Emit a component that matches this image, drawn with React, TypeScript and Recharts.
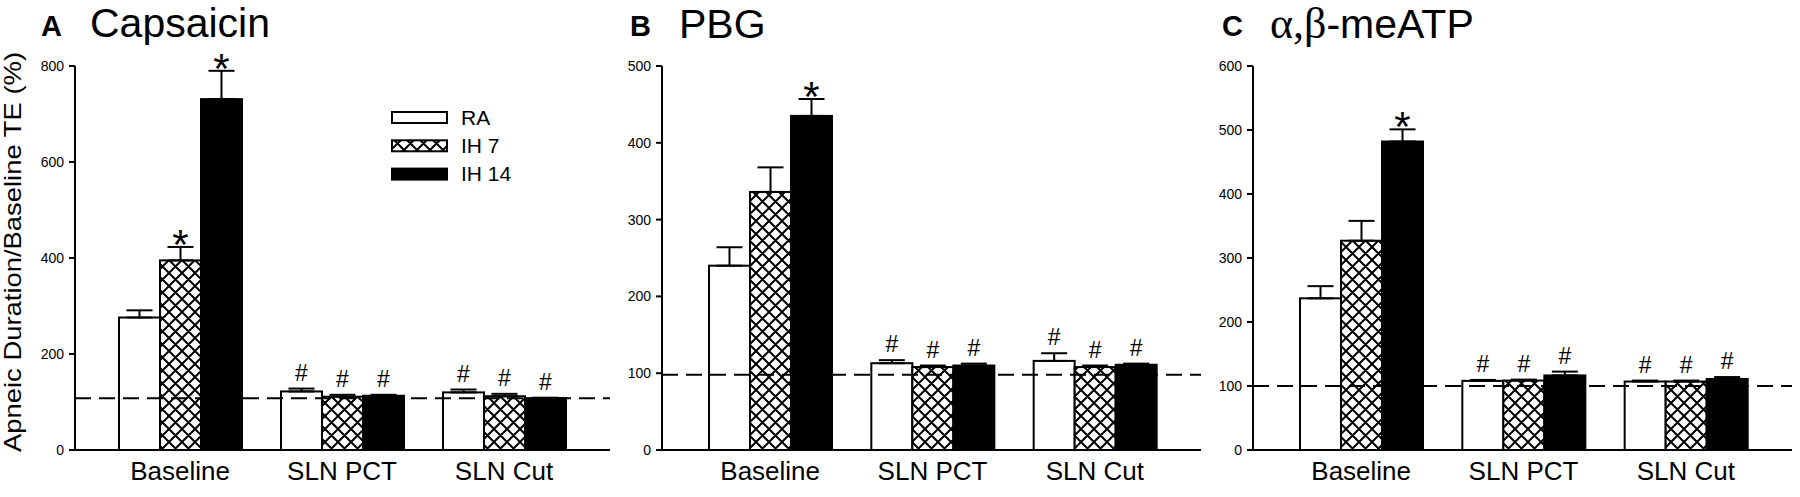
import React from 'react';
import { BarChart, Bar, XAxis, YAxis, ErrorBar, ReferenceLine, Legend } from 'recharts';

const FONT = '"Liberation Sans", Arial, Helvetica, sans-serif';
const SERIF = '"Liberation Serif", "DejaVu Serif", serif';

const categories = ['Baseline', 'SLN PCT', 'SLN Cut'];
const seriesNames = ['RA', 'IH 7', 'IH 14'];

// Panel A: Capsaicin
const capRA = [276, 122, 120];
const capRAErr = [15, 6, 6];
const capIH7 = [395, 111, 112];
const capIH7Err = [28, 4, 5];
const capIH14 = [731, 113, 108];
const capIH14Err = [59, 2, 1];
const capRAMarks = ['', '#', '#'];
const capIH7Marks = ['*', '#', '#'];
const capIH14Marks = ['*', '#', '#'];
const capTicks = [0, 200, 400, 600, 800];
const capRef = 108;

// Panel B: PBG
const pbgRA = [240, 113, 116];
const pbgRAErr = [24, 4, 10];
const pbgIH7 = [336, 108, 108];
const pbgIH7Err = [32, 2, 2];
const pbgIH14 = [435, 110, 111];
const pbgIH14Err = [22, 2.5, 1.5];
const pbgRAMarks = ['', '#', '#'];
const pbgIH7Marks = ['', '#', '#'];
const pbgIH14Marks = ['*', '#', '#'];
const pbgTicks = [0, 100, 200, 300, 400, 500];
const pbgRef = 98;

// Panel C: alpha,beta-meATP
const atpRA = [237, 108, 107];
const atpRAErr = [19, 1.5, 1.5];
const atpIH7 = [327, 108.5, 107];
const atpIH7Err = [31, 1.5, 1.5];
const atpIH14 = [482, 116.5, 111];
const atpIH14Err = [19, 6, 3];
const atpRAMarks = ['', '#', '#'];
const atpIH7Marks = ['', '#', '#'];
const atpIH14Marks = ['*', '#', '#'];
const atpTicks = [0, 100, 200, 300, 400, 500, 600];
const atpRef = 100;

const fills = ['#ffffff', 'url(#crosshatch)', '#000000'];

type PanelSpec = {
  ra: number[]; raErr: number[]; ih7: number[]; ih7Err: number[]; ih14: number[]; ih14Err: number[];
  raMarks: string[]; ih7Marks: string[]; ih14Marks: string[];
  ticks: number[]; refY: number;
};

const buildData = (s: PanelSpec) =>
  categories.map((cat, i) => ({
    cat,
    ra: s.ra[i],
    raE: [0, s.raErr[i]],
    ih7: s.ih7[i],
    ih7E: [0, s.ih7Err[i]],
    ih14: s.ih14[i],
    ih14E: [0, s.ih14Err[i]],
  }));

const makeShape = (fill: string, vals: number[], errs: number[], marks: string[]) => (p: any) => {
  const { x, y, width, height, index } = p;
  const v = vals[index];
  const e = errs[index];
  const pxPer = v ? height / v : 0;
  const errTop = y - e * pxPer;
  const m = marks[index];
  const cx = x + width / 2;
  return (
    <g>
      <rect x={x} y={y} width={width} height={height} fill={fill} stroke="#000" strokeWidth={2} />
      {m === '*' && (
        <text x={cx} y={errTop + 12} textAnchor="middle" fontSize={42} fontFamily={FONT} fill="#000">*</text>
      )}
      {m === '#' && (
        <text x={cx} y={errTop - 8} textAnchor="middle" fontSize={23} fontFamily={FONT} fill="#000">#</text>
      )}
    </g>
  );
};

const CatTick = (props: any) => {
  const { x, payload } = props;
  return (
    <text x={x} y={480} textAnchor="middle" fontSize={26} fontFamily={FONT} fill="#000">
      {payload.value}
    </text>
  );
};

const LegendBox = () => (
  <svg width={140} height={80} style={{ overflow: 'visible', display: 'block' }}>
    {seriesNames.map((n, i) => (
      <g key={n}>
        <rect x={1} y={1 + i * 28.3} width={55} height={11} fill={fills[i]} stroke="#000" strokeWidth={2} />
        <text x={70} y={13.5 + i * 28.3} fontSize={21} fontFamily={FONT} fill="#000">{n}</text>
      </g>
    ))}
  </svg>
);

type ChartProps = {
  spec: PanelSpec; left: number; width: number; yWidth: number; marginRight: number;
  padLeft: number; padRight: number; legend?: boolean;
};

const Panel = ({ spec, left, width, yWidth, marginRight, padLeft, padRight, legend }: ChartProps) => {
  const data = buildData(spec);
  const max = spec.ticks[spec.ticks.length - 1];
  return (
    <div style={{ position: 'absolute', left, top: 0 }}>
      <BarChart
        width={width}
        height={497}
        data={data}
        margin={{ top: 66, right: marginRight, bottom: 0, left: 0 }}
        barGap={0}
        barCategoryGap={20}
      >
        <XAxis
          dataKey="cat"
          tickLine={false}
          axisLine={{ stroke: '#000', strokeWidth: 2 }}
          height={47}
          interval={0}
          padding={{ left: padLeft, right: padRight }}
          tick={<CatTick />}
        />
        <YAxis
          type="number"
          domain={[0, max]}
          ticks={spec.ticks}
          width={yWidth}
          tickSize={6}
          tickMargin={5}
          axisLine={{ stroke: '#000', strokeWidth: 2 }}
          tickLine={{ stroke: '#000', strokeWidth: 2 }}
          tick={{ fontSize: 14, fill: '#000', fontFamily: FONT }}
        />
        <ReferenceLine y={spec.refY} stroke="#000" strokeWidth={2} strokeDasharray="16 8" />
        <Bar dataKey="ra" isAnimationActive={false} shape={makeShape(fills[0], spec.ra, spec.raErr, spec.raMarks)}>
          <ErrorBar dataKey="raE" width={13} strokeWidth={2} stroke="#000" direction="y" />
        </Bar>
        <Bar dataKey="ih7" isAnimationActive={false} shape={makeShape(fills[1], spec.ih7, spec.ih7Err, spec.ih7Marks)}>
          <ErrorBar dataKey="ih7E" width={13} strokeWidth={2} stroke="#000" direction="y" />
        </Bar>
        <Bar dataKey="ih14" isAnimationActive={false} shape={makeShape(fills[2], spec.ih14, spec.ih14Err, spec.ih14Marks)}>
          <ErrorBar dataKey="ih14E" width={13} strokeWidth={2} stroke="#000" direction="y" />
        </Bar>
        {legend && (
          <Legend
            layout="horizontal"
            verticalAlign="middle"
            align="center"
            content={<LegendBox />}
            wrapperStyle={{ position: 'absolute', left: 391, top: 111, width: 140, height: 80 }}
          />
        )}
      </BarChart>
    </div>
  );
};

const specA: PanelSpec = {
  ra: capRA, raErr: capRAErr, ih7: capIH7, ih7Err: capIH7Err, ih14: capIH14, ih14Err: capIH14Err,
  raMarks: capRAMarks, ih7Marks: capIH7Marks, ih14Marks: capIH14Marks, ticks: capTicks, refY: capRef,
};
const specB: PanelSpec = {
  ra: pbgRA, raErr: pbgRAErr, ih7: pbgIH7, ih7Err: pbgIH7Err, ih14: pbgIH14, ih14Err: pbgIH14Err,
  raMarks: pbgRAMarks, ih7Marks: pbgIH7Marks, ih14Marks: pbgIH14Marks, ticks: pbgTicks, refY: pbgRef,
};
const specC: PanelSpec = {
  ra: atpRA, raErr: atpRAErr, ih7: atpIH7, ih7Err: atpIH7Err, ih14: atpIH14, ih14Err: atpIH14Err,
  raMarks: atpRAMarks, ih7Marks: atpIH7Marks, ih14Marks: atpIH14Marks, ticks: atpTicks, refY: atpRef,
};

export default function App() {
  return (
    <div style={{ position: 'absolute', left: 0, top: 0, width: 1800, height: 497, background: '#fff', overflow: 'hidden' }}>
      <svg width={0} height={0} style={{ position: 'absolute' }}>
        <defs>
          <pattern id="crosshatch" patternUnits="userSpaceOnUse" width={13} height={13}>
            <rect width={13} height={13} fill="#fff" />
            <path d="M-1,-1 L14,14 M-1,14 L14,-1 M-1,12 L1,14 M12,-1 L14,1 M-1,1 L1,-1 M12,14 L14,12" stroke="#000" strokeWidth={2} />
          </pattern>
        </defs>
      </svg>
      <Panel spec={specA} left={0} width={630} yWidth={75} marginRight={20} padLeft={24} padRight={25} legend />
      <Panel spec={specB} left={600} width={620} yWidth={62} marginRight={19} padLeft={27} padRight={25} />
      <Panel spec={specC} left={1190} width={610} yWidth={63} marginRight={8} padLeft={27} padRight={25} />
      <svg width={1800} height={497} style={{ position: 'absolute', left: 0, top: 0, pointerEvents: 'none' }}>
        <text x={41} y={36} fontSize={29} fontWeight="bold" fontFamily={FONT} fill="#000">A</text>
        <text x={90} y={37} fontSize={41} fontFamily={FONT} fill="#000">Capsaicin</text>
        <text x={630} y={36} fontSize={29} fontWeight="bold" fontFamily={FONT} fill="#000">B</text>
        <text x={679} y={38} fontSize={41} fontFamily={FONT} fill="#000">PBG</text>
        <text x={1222} y={36} fontSize={29} fontWeight="bold" fontFamily={FONT} fill="#000">C</text>
        <text x={1270} y={38} fontSize={41} fontFamily={FONT} fill="#000">
          <tspan fontFamily={SERIF} fontSize={44}>α,β</tspan>
          <tspan>-meATP</tspan>
        </text>
        <text
          x={21}
          y={252}
          transform="rotate(-90 21 252)"
          textAnchor="middle"
          fontSize={24}
          fontFamily={FONT}
          fill="#000"
          textLength={400}
          lengthAdjust="spacingAndGlyphs"
        >
          Apneic Duration/Baseline TE (%)
        </text>
      </svg>
    </div>
  );
}
